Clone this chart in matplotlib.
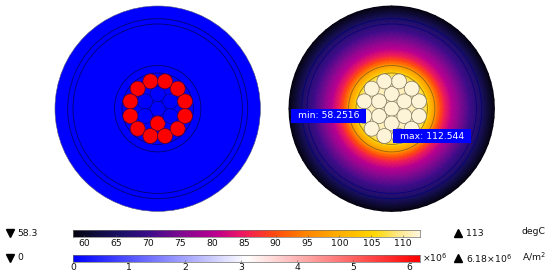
import numpy as np
import matplotlib
matplotlib.use("Agg")
import matplotlib.pyplot as plt
from matplotlib.colors import LinearSegmentedColormap
from matplotlib.patches import Circle, Rectangle

W, H = 550, 277
FS = 6.7

# data
temp_radius = [0, 30, 35.7, 38, 43.2, 46, 49, 53, 60, 68, 78, 90, 96, 102.7]
temp_values = [112.5, 110.5, 106, 102, 97, 93, 89.5, 85.5, 80.5, 75.5, 70.5, 65.5, 62, 58.3]
temp_min, temp_max = 58.2516, 112.544
j_min, j_max = 0.0, 6.18
temp_ticks = [60, 65, 70, 75, 80, 85, 90, 95, 100, 105, 110]
j_ticks = [0, 1, 2, 3, 4, 5, 6]
ring_radii = [102.7, 90, 84.7, 43.2, 35.7]
strand_rings = [0, 14.7, 28.3]
strand_counts = [1, 6, 12]
strand_phase = [90, 90, 15]
strand_size = 7.5
active_strands = [(2, i) for i in range(12)] + [(1, 3)]

thermal = LinearSegmentedColormap.from_list("thermal", [
    (0.00, "#05030f"), (0.06, "#0f0c3a"), (0.14, "#1c1068"), (0.22, "#3d0c8a"),
    (0.31, "#800a90"), (0.41, "#bb0090"), (0.49, "#f01860"), (0.58, "#ff4a10"),
    (0.67, "#ff8400"), (0.77, "#ffb000"), (0.87, "#ffd800"), (0.94, "#ffe98a"),
    (1.00, "#fff6dc")])
wave = LinearSegmentedColormap.from_list("wave", [
    (0, "#0000ff"), (0.5, "#ffffff"), (1, "#ff0000")])
COND = "#fdf3d6"
BLUE = "#0000ff"
RED = "#ff0000"

fig = plt.figure(figsize=(W / 100, H / 100), dpi=100)


def px_axes(x0, y0, x1, y1):
    return fig.add_axes([x0 / W, 1 - y1 / H, (x1 - x0) / W, (y1 - y0) / H])


def strands():
    for ring, (rad, n, ph) in enumerate(zip(strand_rings, strand_counts, strand_phase)):
        for i in range(n):
            a = np.deg2rad(ph + 360 * i / n)
            yield ring, i, rad * np.cos(a), -rad * np.sin(a)


def cable_axes(cx, cy):
    span = 106
    ax = px_axes(cx - span, cy - span, cx + span, cy + span)
    ax.set_xlim(-span, span)
    ax.set_ylim(span, -span)
    ax.axis("off")
    return ax


# left panel: current density
axl = cable_axes(157.7, 108.7)
axl.add_patch(Circle((0, 0), ring_radii[0], fc=BLUE, ec="#555577", lw=0.4))
for r in ring_radii[1:]:
    axl.add_patch(Circle((0, 0), r, fc="none", ec="#000070", lw=0.6))
for ring, i, x, y in strands():
    active = (ring, i) in active_strands
    axl.add_patch(Circle((x, y), strand_size, fc=RED if active else BLUE,
                         ec="#500030" if active else "#000090", lw=0.5, zorder=3))

# right panel: temperature
axr = cable_axes(391.7, 108.7)
theta = np.deg2rad(np.arange(0, 361, 5))
rr, tt = np.meshgrid(temp_radius, theta)
axr.pcolormesh(rr * np.cos(tt), rr * np.sin(tt),
               np.tile(temp_values, (theta.size, 1)), cmap=thermal,
               vmin=temp_min, vmax=temp_max, shading="gouraud", rasterized=True)
for r in ring_radii[1:]:
    col = "#00007a" if r > 60 else "#7a5a18"
    axr.add_patch(Circle((0, 0), r, fc="none", ec=col, lw=0.6, alpha=0.8))
for ring, i, x, y in strands():
    axr.add_patch(Circle((x, y), strand_size, fc=COND, ec="#7d7560", lw=0.5, zorder=3))

for (x0, y0, x1, y1, label) in [(-101, 0.3, -25.7, 14.3, "min: 58.2516"),
                                (1.3, 20.6, 79, 34.6, "max: 112.544")]:
    axr.add_patch(Rectangle((x0, y0), x1 - x0, y1 - y0, fc=BLUE, ec="none", zorder=5))
    axr.text((x0 + x1) / 2, (y0 + y1) / 2, label, color="white", fontsize=FS,
             ha="center", va="center", zorder=6)


# colour bars
def colorbar(y0, y1, vmin, vmax, cmap, ticks, pad):
    ax = px_axes(73, y0, 419.5, y1)
    ax.imshow(np.linspace(0, 1, 512)[None, :], cmap=cmap, aspect="auto",
              extent=[vmin, vmax, 0, 1])
    ax.set_xlim(vmin, vmax)
    ax.set_yticks([])
    ax.set_xticks(ticks)
    ax.tick_params(axis="x", direction="in", length=1.5, width=0.4, color="#555555",
                   pad=pad, labelsize=FS, labelcolor="#111111")
    for s in ax.spines.values():
        s.set_linewidth(0.5)
        s.set_color("#707070")
    return ax


colorbar(230, 237, temp_min, temp_max, thermal, temp_ticks, 1.5)
colorbar(255.3, 262.3, j_min, 6.18, wave, j_ticks, 0.8)

# free labels in pixel coordinates
over = px_axes(0, 0, W, H)
over.set_xlim(0, W)
over.set_ylim(H, 0)
over.axis("off")
over.patch.set_alpha(0)
over.plot([9.5], [232.5], marker="v", ms=5.5, color="black", ls="none")
over.plot([9.5], [257.5], marker="v", ms=5.5, color="black", ls="none")
over.plot([457.5], [233], marker="^", ms=5.5, color="black", ls="none")
over.plot([457.5], [258], marker="^", ms=5.5, color="black", ls="none")
for x, y, s in [(17.5, 233, "58.3"), (17.5, 258, "0"), (466, 233.5, "113"),
                (466, 258.5, r"6.18$\times$10$^{6}$"), (522, 231, "degC"),
                (522, 256.5, "A/m$^{2}$"), (421.5, 257.5, r"$\times$10$^{6}$")]:
    over.text(x, y, s, fontsize=FS, va="center", ha="left", color="#111111",
              math_fontfamily="dejavusans")

fig.savefig("out.png", dpi=100)
